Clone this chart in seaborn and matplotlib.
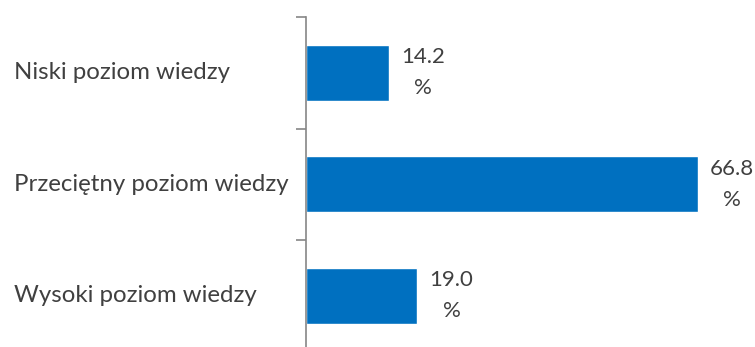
import matplotlib
matplotlib.use("Agg")
import matplotlib.pyplot as plt
import seaborn as sns
import pandas as pd

categories = ["Niski poziom wiedzy", "Przeciętny poziom wiedzy", "Wysoki poziom wiedzy"]
values = [14.2, 66.8, 19.0]
value_labels = ["14.2\n%", "66.8\n%", "19.0\n%"]

sns.set_style("white")
plt.rcParams['font.family'] = ['Lato', 'DejaVu Sans']

df = pd.DataFrame({"cat": categories, "val": values})

fig = plt.figure(figsize=(7.55, 3.47), dpi=100)
ax = fig.add_axes([306/755, -4.5/347, 440/755, 334.5/347])
sns.barplot(data=df, y="cat", x="val", orient="h", color="#0070C0",
            saturation=1, width=0.5, ax=ax)
ax.set_xlim(0, 75)
ax.set_ylim(2.5, -0.5)
ax.set_xlabel("")
ax.set_ylabel("")
ax.set_xticks([])
for s in ["top", "right", "bottom"]:
    ax.spines[s].set_visible(False)
ax.spines["left"].set_color("#868686")
ax.spines["left"].set_linewidth(1.2)
ax.set_yticks([0, 1, 2])
ax.set_yticklabels([])
ax.tick_params(axis="y", which="major", length=0)
ax.set_yticks([-0.5, 0.5, 1.5, 2.5], minor=True)
ax.tick_params(axis="y", which="minor", length=7, width=1.2, color="#868686", left=True)

for i, (c, v, lab) in enumerate(zip(categories, values, value_labels)):
    ax.annotate(lab, xy=(v, i), xytext=(24.5, 0), textcoords="offset points",
                ha="center", va="center", fontsize=16, color="#404040",
                linespacing=1.7)
    ax.annotate(c, xy=(0, i), xycoords=("figure fraction", "data"),
                xytext=(14, 0), textcoords="offset pixels",
                ha="left", va="center", fontsize=17.3, color="#404040")

fig.savefig("out.png", dpi=100)
